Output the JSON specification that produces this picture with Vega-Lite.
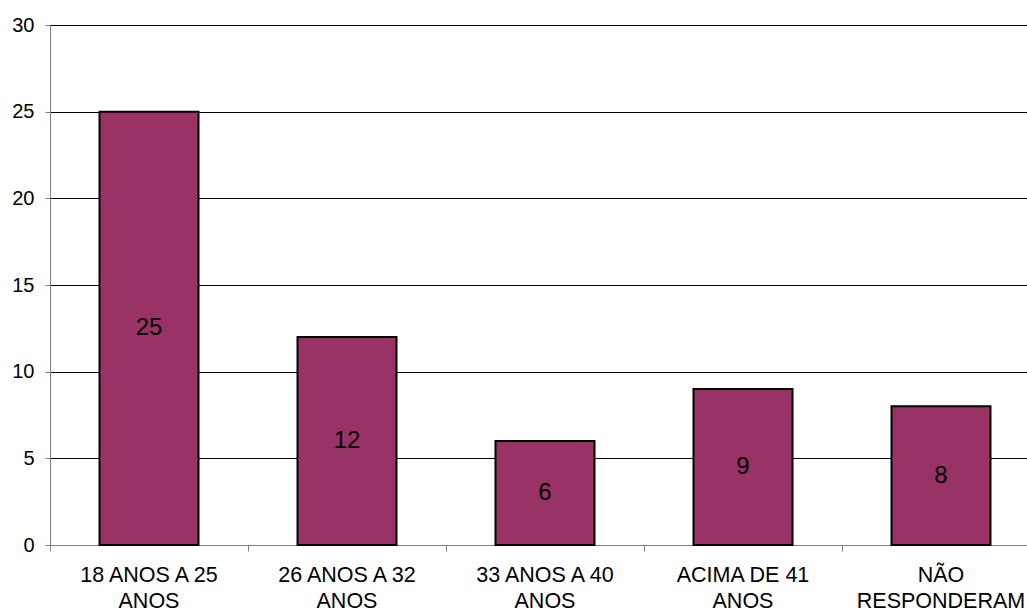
{
  "$schema": "https://vega.github.io/schema/vega-lite/v6.json",
  "autosize": "none",
  "width": 977,
  "height": 520,
  "padding": {"left": 50, "top": 25, "right": 0, "bottom": 67},
  "background": "white",
  "config": {
    "view": {"stroke": null},
    "font": "Liberation Sans"
  },
  "data": {
    "values": [
      {"faixa": "18 ANOS A 25 ANOS", "value": 25},
      {"faixa": "26 ANOS A 32 ANOS", "value": 12},
      {"faixa": "33 ANOS A 40 ANOS", "value": 6},
      {"faixa": "ACIMA DE 41 ANOS", "value": 9},
      {"faixa": "NÃO RESPONDERAM", "value": 8}
    ]
  },
  "encoding": {
    "x": {
      "field": "faixa",
      "type": "nominal",
      "sort": null,
      "title": null,
      "scale": {"range": [0, 990], "paddingInner": 0, "paddingOuter": 0},
      "axis": {
        "labelAngle": 0,
        "labelFont": "Liberation Sans",
        "labelFontSize": 21.5,
        "labelColor": "black",
        "labelLineHeight": 26,
        "labelPadding": 13,
        "bandPosition": 0,
        "labelExpr": "[slice(datum.label, 0, lastindexof(datum.label, ' ')), slice(datum.label, lastindexof(datum.label, ' ') + 1)]",
        "domainColor": "#808080",
        "tickColor": "#808080",
        "tickSize": 6,
        "grid": false
      }
    }
  },
  "layer": [
    {
      "mark": {"type": "bar", "fill": "#993366", "stroke": "black", "strokeWidth": 2, "width": {"band": 0.5}},
      "encoding": {
        "y": {
          "field": "value",
          "type": "quantitative",
          "title": null,
          "scale": {"domain": [0, 30]},
          "axis": {
            "values": [0, 5, 10, 15, 20, 25, 30],
            "labelFont": "Liberation Sans",
            "labelFontSize": 20,
            "labelColor": "black",
            "labelPadding": 11,
            "domainColor": "#808080",
            "tickColor": "#808080",
            "tickSize": 5,
            "gridColor": "black",
            "gridOpacity": 1,
            "gridWidth": 1
          }
        }
      }
    },
    {
      "transform": [{"calculate": "datum.value / 2", "as": "meio"}],
      "mark": {"type": "text", "fontSize": 24, "font": "Liberation Sans", "color": "black", "baseline": "middle"},
      "encoding": {
        "y": {"field": "meio", "type": "quantitative"},
        "text": {"field": "value", "type": "quantitative"}
      }
    }
  ]
}
